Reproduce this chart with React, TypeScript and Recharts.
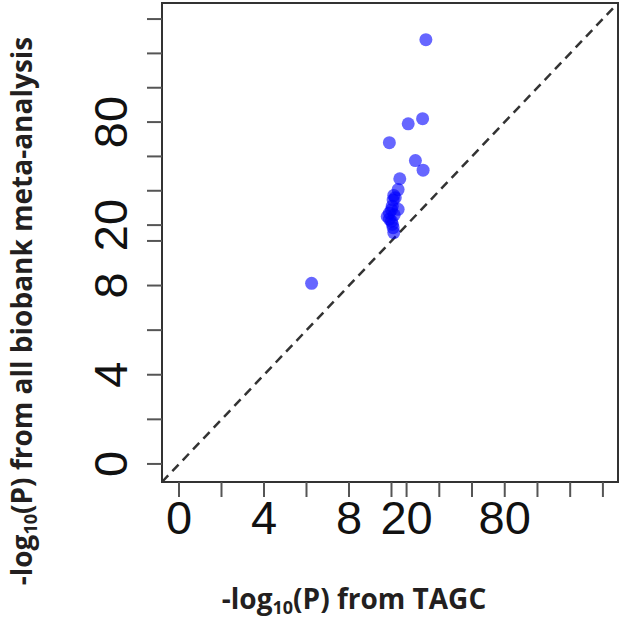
import { ScatterChart, Scatter, XAxis, YAxis, ReferenceLine, ReferenceArea, Label } from 'recharts';

// -log10(P) values, TAGC (x) vs all biobank meta-analysis (y)
const tagcLogP = [31.8, 29.8, 21, 9.9, 25.4, 30.1, 15.5, 14.4, 11.5, 12.5, 11.1, 10.5, 10.0, 14.4, 11.8, 9.9, 9.8, 9.9, 10.0, 10.6, 11.1, 11.5, 6.24];
const biobankLogP = [128, 82, 79, 68, 57.6, 52, 47, 40.7, 37.3, 36, 34.6, 31, 29, 29.2, 26, 27, 25, 23.5, 22.3, 20.5, 18.4, 15.3, 8.1];

const axisTicks = [0, 2, 4, 6, 8, 10, 20, 40, 60, 80, 100, 120, 140];
const labeledTicks = [0, 4, 8, 20, 80];

// broken axis: linear up to 10, squeezed 10-20, compressed beyond 20
const squash = (v: number) =>
  v <= 10 ? v : v <= 20 ? 10 + (v - 10) * 0.071 : 10.71 + (v - 20) * 0.077;

const points = tagcLogP.map((x, i) => ({ x: squash(x), y: squash(biobankLogP[i]) }));
const tickPos = axisTicks.map(squash);

const xDomain: [number, number] = [-0.8, 20.66];
const yDomain: [number, number] = [-0.81, 20.67];

const rawOf = (value: number) => axisTicks.find((v) => Math.abs(squash(v) - value) < 1e-6);

const tickFont = { fontFamily: '"Liberation Sans", Arial, sans-serif', fontSize: 47, fill: '#111' };
const titleFont = { fontFamily: '"Open Sans", Lato, sans-serif', fontWeight: 700, fontSize: 28, fill: '#231f20' };

const XTick = (props: any) => {
  const { x, y, payload } = props;
  const raw = rawOf(payload.value);
  if (raw === undefined || !labeledTicks.includes(raw)) return null;
  return (
    <text x={x} y={y + 34} textAnchor="middle" {...tickFont}>
      {raw}
    </text>
  );
};

const YTick = (props: any) => {
  const { x, y, payload } = props;
  const raw = rawOf(payload.value);
  if (raw === undefined || !labeledTicks.includes(raw)) return null;
  return (
    <text x={x} y={y} transform={`rotate(-90, ${x}, ${y})`} textAnchor="middle" {...tickFont}>
      {raw}
    </text>
  );
};

export default function App() {
  return (
    <div style={{ position: 'absolute', left: 0, top: 0, background: '#fff' }}>
      <ScatterChart width={621} height={620} margin={{ top: 3, right: 3, bottom: 0, left: 0 }}>
        <XAxis
          type="number"
          dataKey="x"
          domain={xDomain}
          ticks={tickPos}
          interval={0}
          allowDataOverflow
          height={138}
          axisLine={false}
          tickSize={15}
          tickMargin={3}
          tickLine={{ stroke: '#555', strokeWidth: 2 }}
          tick={<XTick />}
        >
          <Label
            content={() => (
              <text x={354} y={609} textAnchor="middle" {...titleFont}>
                -log
                <tspan fontSize={18} dy={5}>10</tspan>
                <tspan dy={-5}>(P) from TAGC</tspan>
              </text>
            )}
          />
        </XAxis>
        <YAxis
          type="number"
          dataKey="y"
          domain={yDomain}
          ticks={tickPos}
          interval={0}
          allowDataOverflow
          width={162}
          axisLine={false}
          tickSize={15}
          tickMargin={20}
          tickLine={{ stroke: '#555', strokeWidth: 2 }}
          tick={<YTick />}
        >
          <Label
            content={() => (
              <text x={-311} y={32} transform="rotate(-90)" textAnchor="middle" {...titleFont}>
                -log
                <tspan fontSize={18} dy={5}>10</tspan>
                <tspan dy={-5}>(P) from all biobank meta-analysis</tspan>
              </text>
            )}
          />
        </YAxis>
        <ReferenceArea
          x1={xDomain[0]}
          x2={xDomain[1]}
          y1={yDomain[0]}
          y2={yDomain[1]}
          fill="none"
          stroke="#333"
          strokeWidth={2}
        />
        <ReferenceLine
          segment={[
            { x: xDomain[0], y: yDomain[0] },
            { x: xDomain[1], y: yDomain[1] },
          ]}
          stroke="#333"
          strokeWidth={2.5}
          strokeDasharray="9 6"
        />
        <Scatter
          data={points}
          fill="#0000ff"
          fillOpacity={0.6}
          shape={(p: any) => <circle cx={p.cx} cy={p.cy} r={6.5} fill="#0000ff" fillOpacity={0.6} />}
          isAnimationActive={false}
        />
      </ScatterChart>
    </div>
  );
}
